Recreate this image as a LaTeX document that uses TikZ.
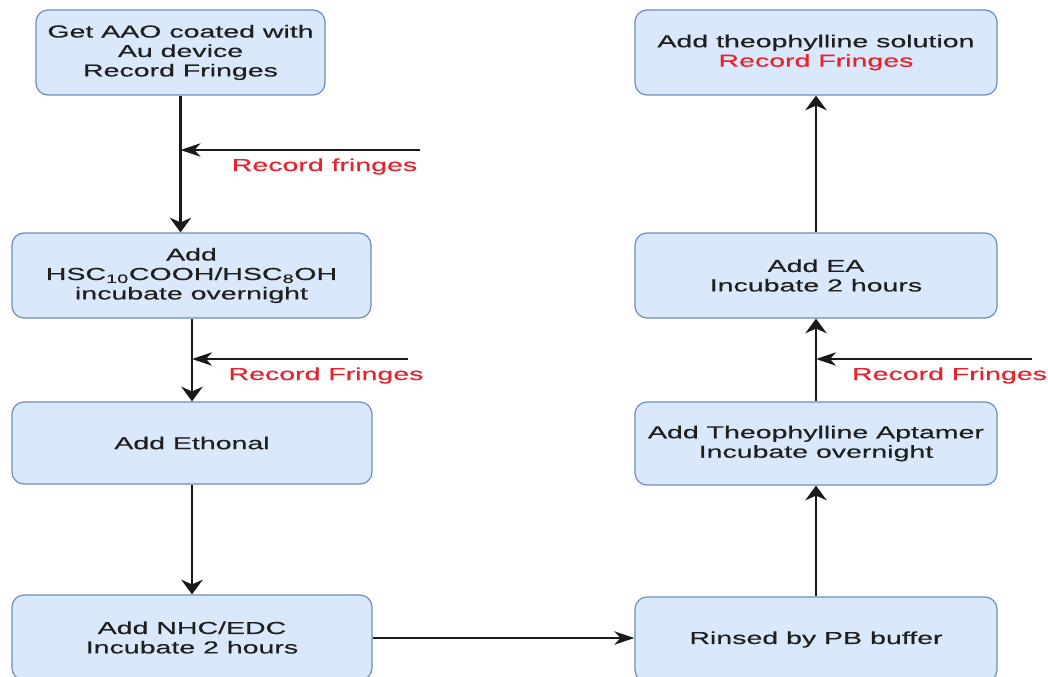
\documentclass[tikz,border=0pt]{standalone}
\usepackage{fontspec}
\setmainfont{Liberation Sans}[FakeStretch=1.645,FakeBold=0.4]
\usetikzlibrary{arrows.meta}
\definecolor{boxfill}{HTML}{DAE8FC}
\definecolor{boxline}{HTML}{6C8EBF}
\definecolor{rectext}{HTML}{E8232E}
\definecolor{linecol}{HTML}{1A1A1A}
\definecolor{txt}{HTML}{1F1F1F}
\begin{document}
\begin{tikzpicture}[x=0.75pt,y=-0.75pt,
  box/.style={draw=boxline, fill=boxfill, line width=0.9pt, rounded corners=9pt,
    align=center, font=\fontsize{13}{14.6}\selectfont, text=txt, inner sep=0pt},
  vline/.style={draw=linecol, line width=2.2pt, -{Stealth[length=11pt,width=16pt,inset=3.5pt]}},
  hline/.style={draw=linecol, line width=1.5pt, -{Stealth[length=15pt,width=10pt,inset=4.5pt]}},
  lbl/.style={text=rectext, font=\fontsize{13}{14.6}\selectfont, inner sep=0pt, anchor=base}
]
\useasboundingbox (0,0) rectangle (1048,677);
\clip (0,0) rectangle (1048,677);
\fill[white] (0,0) rectangle (1048,677);

% left column
\node[box, minimum width=289*0.75pt, minimum height=85*0.75pt] (n1) at (180.5,52.5)
  {Get AAO coated with\\Au device\\Record Fringes};
\node[box, minimum width=359*0.75pt, minimum height=85*0.75pt] (n2) at (191.5,275.5)
  {Add\\HSC\textsubscript{10}COOH/HSC\textsubscript{8}OH\\incubate overnight};
\node[box, minimum width=360*0.75pt, minimum height=82*0.75pt] (n3) at (192,443)
  {Add Ethonal};
\node[box, minimum width=360*0.75pt, minimum height=85*0.75pt] (n4) at (192,637.5)
  {Add NHC/EDC\\Incubate 2 hours};

% right column
\node[box, minimum width=362*0.75pt, minimum height=85*0.75pt] (n5) at (816,639.5)
  {Rinsed by PB buffer};
\node[box, minimum width=362*0.75pt, minimum height=83*0.75pt] (n6) at (816,443.5)
  {Add Theophylline Aptamer\\Incubate overnight};
\node[box, minimum width=362*0.75pt, minimum height=85*0.75pt] (n7) at (816,275.5)
  {Add EA\\Incubate 2 hours};
\node[box, minimum width=362*0.75pt, minimum height=85*0.75pt] (n8) at (816,52.5)
  {Add theophylline solution\\\textcolor{rectext}{Record Fringes}};

% main flow
\draw[vline] (n1.south) -- (n1.south |- n2.north);
\draw[vline] (n2.south -| n3.north) -- (n3.north);
\draw[vline] (n3.south) -- (n4.north);
\draw[hline] (n4.east |- 0,638) -- (n5.west |- 0,638);
\draw[vline] (n5.north) -- (n6.south);
\draw[vline] (n6.north) -- (n7.south);
\draw[vline] (n7.north) -- (n8.south);

% side inputs
\coordinate (c1) at (420,150);
\coordinate (c2) at (408,359);
\coordinate (c3) at (1032,359);
\draw[hline] (c1) -- (c1 -| n1.south);
\draw[hline] (c2) -- (c2 -| n3.north);
\draw[hline] (c3) -- (c3 -| n6.north);

\node[lbl] (l1) at (324.5,171) {Record fringes};
\node[lbl] (l2) at (326,380) {Record Fringes};
\node[lbl] (l3) at (949.5,380) {Record Fringes};
\end{tikzpicture}
\end{document}
